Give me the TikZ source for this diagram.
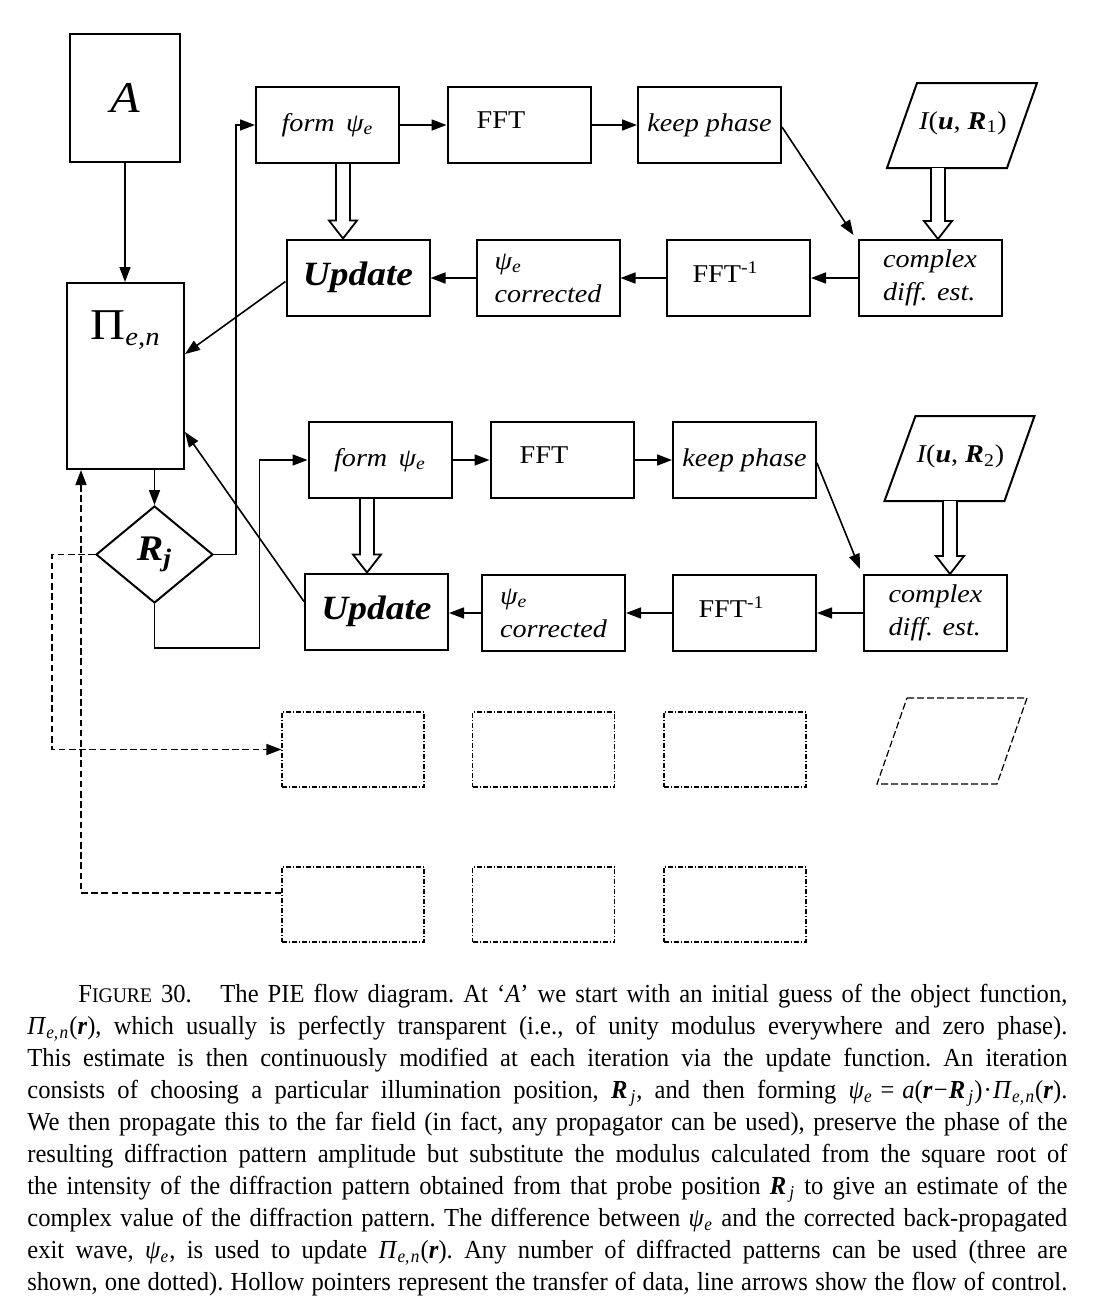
\documentclass[tikz,border=0pt]{standalone}
\usepackage{fontspec}
\setmainfont{Liberation Serif}
\newfontfamily\dfam[FakeStretch=1.1]{Liberation Serif}
\newfontfamily\cfam[FakeStretch=0.945]{Liberation Serif}
\usetikzlibrary{arrows.meta,calc,shapes.geometric}
\newcommand\dfont{\dfam\fontsize{12.8}{16.5}\selectfont}
\newcommand\capfont{\cfam\fontsize{13}{16}\selectfont}
\newcommand\hollowdown[3]{%
  \draw[hollowsty] let \p1=(#2), \p2=(#3) in
    ({#1*0.5pt-3.5pt},\y1) -- ({#1*0.5pt-3.5pt},{\y2+9pt}) -- ({#1*0.5pt-7pt},{\y2+9pt}) -- ({#1*0.5pt},\y2) -- ({#1*0.5pt+7pt},{\y2+9pt}) -- ({#1*0.5pt+3.5pt},{\y2+9pt}) -- ({#1*0.5pt+3.5pt},\y1);}
\newcommand\capline[1]{\makebox[520pt][s]{\spaceskip=0pt\xspaceskip=0pt\frenchspacing #1}}
\newcommand\Rj{\textbf{\textit{R}}\kern0.12em\textsubscript{\textit{j}}}
\newcommand\Pien{\textit{Π}\textsubscript{\textit{e,\kern0.08em n}}}
\newcommand\psie{\textit{ψ}\textsubscript{\textit{e}}}
\begin{document}
\begin{tikzpicture}[x=0.5pt,y=-0.5pt,font=\dfont,
  bx/.style={draw, line width=1pt, minimum width=71.5pt, minimum height=38pt, inner sep=0pt},
  arr/.style={line width=0.8pt, -{Triangle[length=7.5pt,width=5.5pt]}},
  hollowsty/.style={line width=0.9pt, fill=white, line join=miter},
  parsty/.style={line width=1pt},
  dbox/.style={draw, line width=0.6pt, dash pattern=on 2.5pt off 1pt on 0.5pt off 1pt, minimum width=71pt, minimum height=37.5pt, inner sep=0pt},
  dashconn/.style={line width=0.8pt, dash pattern=on 3.3pt off 1.8pt},
  dpar/.style={line width=0.6pt, dash pattern=on 3.5pt off 1.5pt},
  bigit/.style={font=\dfont\itshape, align=left}
]
\useasboundingbox (0,0) rectangle (1100,1314);
\fill[white] (0,0) rectangle (1100,1314);

% left column
\node[bx, minimum width=55pt, minimum height=64pt] (A) at (125,97.5) {\fontsize{22}{24}\selectfont\itshape A};
\node[bx, minimum width=58.5pt, minimum height=93pt,
  label={[anchor=base, yshift=-28.5pt, inner sep=0pt]north:{\fontsize{22}{24}\selectfont Π\textsubscript{\fontsize{13}{14}\selectfont\itshape e,n}}}] (pi) at (125.5,376) {};
\node[diamond, draw, line width=1pt, minimum width=58.5pt, minimum height=48.5pt, inner sep=0pt] (dia) at (154.5,554.5) {\fontsize{18}{20}\selectfont\bfseries\itshape R\textsubscript{j}};

% row 1
\node[bx] (form1) at (327.5,125) {\itshape form\, ψ\textsubscript{e}};
\node[bx, label={[xshift=-9pt, yshift=2.5pt]center:FFT}] (fft1) at (519,125) {};
\node[bx] (kp1) at (709.5,125) {\itshape keep phase};
\node (par1) at (963,123) {\itshape I\upshape(\textbf{\textit{u}}, \textbf{\textit{R}}\textsubscript{1})};
\draw[parsty] ($(par1)+(-46,-40)$) -- ($(par1)+(74,-40)$) -- ($(par1)+(44,45)$) -- ($(par1)+(-76,45)$) -- cycle;
\node[bx] (upd1) at (358,277.5) {\fontsize{17}{18}\selectfont\bfseries\itshape Update};
\node[bx, bigit] (cor1) at (548,278) {ψ\textsubscript{e}\\corrected};
\node[bx, label={[xshift=-6.5pt, yshift=3pt]center:FFT\textsuperscript{-1}}] (fi1) at (738.5,278) {};
\node[bx, bigit] (cde1) at (930,278) {complex\\diff. est.};

% row 2
\node[bx] (form2) at (380,460) {\itshape form\, ψ\textsubscript{e}};
\node[bx, label={[xshift=-9pt, yshift=2.5pt]center:FFT}] (fft2) at (562,460) {};
\node[bx] (kp2) at (744.5,460) {\itshape keep phase};
\node (par2) at (960.5,456.5) {\itshape I\upshape(\textbf{\textit{u}}, \textbf{\textit{R}}\textsubscript{2})};
\draw[parsty] ($(par2)+(-45,-40.5)$) -- ($(par2)+(74,-40.5)$) -- ($(par2)+(44,44.5)$) -- ($(par2)+(-76,44.5)$) -- cycle;
\node[bx] (upd2) at (376.5,611.5) {\fontsize{17}{18}\selectfont\bfseries\itshape Update};
\node[bx, bigit] (cor2) at (553.5,613) {ψ\textsubscript{e}\\corrected};
\node[bx, label={[xshift=-6.5pt, yshift=3pt]center:FFT\textsuperscript{-1}}] (fi2) at (744.5,613) {};
\node[bx, bigit] (cde2) at (935.5,613) {complex\\diff. est.};

% dotted third set
\node[dbox] (d1) at (353,749.5) {};
\node[dbox] (d2) at (543.5,749.5) {};
\node[dbox] (d3) at (735,749.5) {};
\node[dbox] (e1) at (353,904.5) {};
\node[dbox] (e2) at (543.5,904.5) {};
\node[dbox] (e3) at (735,904.5) {};
\coordinate (dp) at (952,741);
\draw[dpar] ($(dp)+(-45,-43)$) -- ($(dp)+(75,-43)$) -- ($(dp)+(45,43)$) -- ($(dp)+(-75,43)$) -- cycle;

% control flow
\draw[arr] (A.south) -- (A.south |- pi.north);
\draw[arr] (dia.north |- pi.south) -- (dia.north);
\draw[arr] (dia.east) -- ++(22,0) |- (form1.west);
\draw[arr] (dia.south) -- ++(0,44) -| ($(form2.west)+(-48,0)$) -- (form2.west);
\draw[arr] ($(upd1.west)+(0,4)$) -- ($(pi.east)+(0,-22)$);
\draw[arr] ($(upd2.west)+(0,-10)$) -- ($(pi.east)+(0,56)$);

\draw[arr] (form1.east) -- (fft1.west);
\draw[arr] (fft1.east) -- (kp1.west);
\draw[arr] ($(kp1.east)+(0,2)$) -- ($(cde1.north west)+(-4,-4)$);
\draw[arr] (cde1.west) -- (fi1.east);
\draw[arr] (fi1.west) -- (cor1.east);
\draw[arr] (cor1.west) -- (upd1.east |- cor1.west);

\draw[arr] (form2.east) -- (fft2.west);
\draw[arr] (fft2.east) -- (kp2.west);
\draw[arr] ($(kp2.east)+(0,3)$) -- ($(cde2.north west)+(-3,-5)$);
\draw[arr] (cde2.west) -- (fi2.east);
\draw[arr] (fi2.west) -- (cor2.east);
\draw[arr] (cor2.west) -- (upd2.east |- cor2.west);

% dashed control
\draw[dashconn, -{Triangle[length=7.5pt,width=5.5pt]}] (dia.west) -- ++(-43,0) |- (d1.west);
\draw[dashconn, -{Triangle[length=7.5pt,width=5.5pt]}] ($(e1.west)+(0,-11.5)$) -| ($(pi.south)+(-44.5,0)$);

% data transfer (hollow)
\hollowdown{343}{form1.south}{upd1.north}
\hollowdown{938}{$(par1)+(0,45)$}{cde1.north}
\hollowdown{367}{form2.south}{upd2.north}
\hollowdown{950}{$(par2)+(0,44.5)$}{cde2.north}

% caption
\node[anchor=north west, inner sep=0pt, text width=520pt, align=left, font=\capfont] (cap) at (27,984) {%
\capline{\hspace*{25.5pt}F{\fontsize{10.4}{12}\selectfont IGURE} 30.\hspace{1.1em}The PIE flow diagram. At ‘\textit{A}’ we start with an initial guess of the object function,}\\
\capline{\Pien(\textbf{\textit{r}}), which usually is perfectly transparent (i.e., of unity modulus everywhere and zero phase).}\\
\capline{This estimate is then continuously modified at each iteration via the update function. An iteration}\\
\capline{consists of choosing a particular illumination position, \Rj, and then forming \psie\hspace{0.3em}=\hspace{0.3em}\textit{a}(\textbf{\textit{r}}\kern0.05em−\kern0.05em\Rj)\kern0.05em·\kern0.05em\Pien(\textbf{\textit{r}}).}\\
\capline{We then propagate this to the far field (in fact, any propagator can be used), preserve the phase of the}\\
\capline{resulting diffraction pattern amplitude but substitute the modulus calculated from the square root of}\\
\capline{the intensity of the diffraction pattern obtained from that probe position \Rj{} to give an estimate of the}\\
\capline{complex value of the diffraction pattern. The difference between \psie{} and the corrected back-propagated}\\
\capline{exit wave, \psie, is used to update \Pien(\textbf{\textit{r}}). Any number of diffracted patterns can be used (three are}\\
\capline{shown, one dotted). Hollow pointers represent the transfer of data, line arrows show the flow of control.}};
\end{tikzpicture}
\end{document}
